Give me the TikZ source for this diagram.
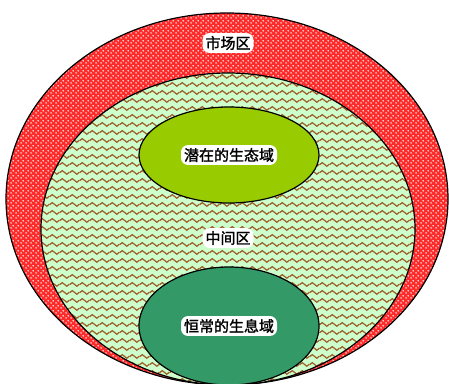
\documentclass[tikz,border=0pt]{standalone}
\usepackage{fontspec}
\newfontfamily\cjk[FakeBold=1.5]{Noto Sans CJK SC}
\usepackage{tikz}
\usetikzlibrary{shapes.geometric,patterns.meta}

\definecolor{dotred}{HTML}{FF2B2B}
\definecolor{wavebg}{HTML}{CCFFCC}
\definecolor{wavebrown}{HTML}{A0602D}
\definecolor{potgreen}{HTML}{99CC00}
\definecolor{habgreen}{HTML}{339966}

% dots and waves for the two outer zones
\tikzdeclarepattern{
  name=zonedots,
  type=uncolored,
  bottom left={(0pt,0pt)},
  top right={(5pt,5pt)},
  tile size={(5pt,5pt)},
  code={
    \fill (1.25pt,1.25pt) circle (0.9pt);
    \fill (3.75pt,3.75pt) circle (0.9pt);
  }
}
\tikzdeclarepattern{
  name=zonewaves,
  type=uncolored,
  bottom left={(0pt,0pt)},
  top right={(10pt,8pt)},
  tile size={(10pt,8pt)},
  code={
    \draw[line width=1.4pt] (-0.5pt,3.6pt) -- (0pt,4pt) -- (2.5pt,6pt) -- (7.5pt,2pt) -- (10pt,4pt) -- (10.5pt,4.4pt);
  }
}

\begin{document}
\begin{tikzpicture}[
    x=1pt, y=-1pt,
    zone/.style={ellipse,draw,line width=1.2pt,inner sep=0pt},
    tag/.style={fill=white,rounded corners=7pt,inner sep=3pt,
      font=\cjk\fontsize{15}{15}\selectfont}
]
\useasboundingbox (0,0) rectangle (449,383);
\clip (0,0) rectangle (449,383);

% zones
\node[zone,minimum width=442pt,minimum height=372pt,
  preaction={fill=dotred},pattern={zonedots},pattern color=white] (market) at (227,199) {};

\node[zone,minimum width=374pt,minimum height=312pt,
  preaction={fill=wavebg},pattern={zonewaves},pattern color=wavebrown] (middle) at (228,229) {};

\node[zone,fill=potgreen,minimum width=180pt,minimum height=96pt] (potential) at (229,155) {};

\node[zone,fill=habgreen,minimum width=180pt,minimum height=118pt] (habitat) at (229,326) {};

% labels
\node[tag] (marketlabel) at (228,43) {市场区};
\node[tag] (potentiallabel) at (potential) {潜在的生态域};
\node[tag] (middlelabel) at (228,238) {中间区};
\node[tag] (habitatlabel) at (229,326) {恒常的生息域};

\end{tikzpicture}
\end{document}
